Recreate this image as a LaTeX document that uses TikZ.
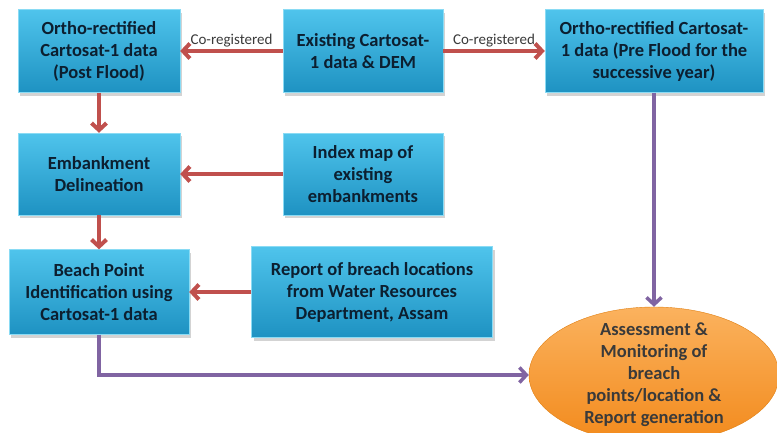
\documentclass[tikz,border=0pt]{standalone}
\usepackage{fontspec}
\setmainfont{Carlito}
\usepackage{tikz}
\usetikzlibrary{shapes.geometric, shadows, arrows.meta}
\usetikzlibrary{positioning}

\definecolor{boxtop}{HTML}{4FC4EC}
\definecolor{boxbot}{HTML}{1E92C2}
\definecolor{boxline}{HTML}{8ADBF4}
\definecolor{boxtext}{HTML}{0C1F30}
\definecolor{linkred}{HTML}{C0504D}
\definecolor{linkpurple}{HTML}{8064A2}
\definecolor{asstop}{HTML}{FBB25E}
\definecolor{assbot}{HTML}{F28A1C}
\definecolor{assline}{HTML}{E07F12}
\definecolor{labelgrey}{HTML}{3A3A3A}

\begin{document}
\begin{tikzpicture}[x=1pt, y=-1pt,
    stepbox/.style={rectangle, draw=boxline, top color=boxtop, bottom color=boxbot,
        drop shadow={shadow xshift=2pt, shadow yshift=-3pt, opacity=0.35},
        text=boxtext, font=\bfseries\fontsize{18.5}{22}\selectfont, align=center, inner sep=0pt},
    outcome/.style={ellipse, draw=assline, top color=asstop, bottom color=assbot,
        text=labelgrey, font=\bfseries\fontsize{18.5}{22}\selectfont, align=center,
        inner xsep=0pt, inner ysep=-6pt, minimum width=250pt, minimum height=136pt},
    coreg/.style={font=\fontsize{15}{17}\selectfont, text=labelgrey, inner sep=2pt},
    >={Straight Barb[length=7pt, width=15pt]}
    ]
    \useasboundingbox (0,0) rectangle (777,432);
    \clip (0,0) rectangle (777,432);
    
    % top row
    \node[stepbox, minimum width=162pt, minimum height=83pt] (postflood) at (99,51) {Ortho-rectified\\Cartosat-1 data\\(Post Flood)};
    \node[stepbox, minimum width=160pt, minimum height=83pt] (existing) at (363,51) {Existing Cartosat-\\1 data \& DEM};
    \node[stepbox, minimum width=218pt, minimum height=83pt] (preflood) at (654,51) {Ortho-rectified Cartosat-\\1 data (Pre Flood for the\\successive year)};
    % middle row
    \node[stepbox, minimum width=162pt, minimum height=82pt] (delin) at (99,174) {Embankment\\Delineation};
    \node[stepbox, minimum width=160pt, minimum height=82pt] (indexmap) at (363,174) {Index map of\\existing\\embankments};
    % bottom row
    \node[stepbox, minimum width=180pt, minimum height=85pt] (breach) at (99,292) {Beach Point\\Identification using\\Cartosat-1 data};
    \node[stepbox, minimum width=241pt, minimum height=91pt] (report) at (372,292) {Report of breach locations\\from Water Resources\\Department, Assam};
    \node[outcome] (assess) at (654,375) {Assessment \&\\Monitoring of\\breach\\points/location \&\\Report generation};
    
    % red links
    \path[every edge/.style={draw=linkred, line width=4pt}, ->]
    (existing) edge node[coreg, above] {Co-registered} (postflood)
    (existing) edge node[coreg, above] {Co-registered} (preflood)
    (postflood) edge (delin)
    (indexmap) edge (delin)
    (delin) edge (breach)
    (report) edge (breach)
    ;
    
    % purple links into the assessment
    \path[every edge/.style={draw=linkpurple, line width=3.5pt}, ->]
    (preflood) edge (assess);
    \draw[linkpurple, line width=3.5pt, ->] (breach) |- (assess);
    
\end{tikzpicture}
\end{document}
